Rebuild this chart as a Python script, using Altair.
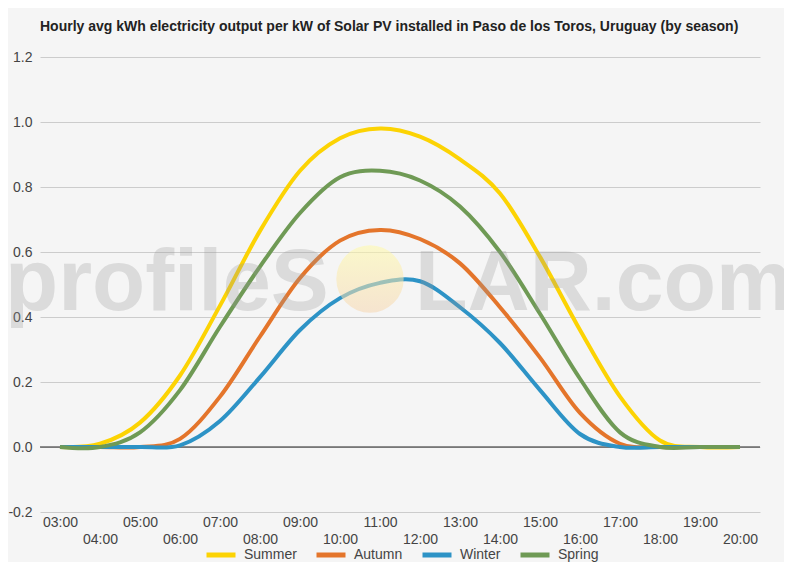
import altair as alt
import pandas as pd

hours = ["03:00", "04:00", "05:00", "06:00", "07:00", "08:00", "09:00", "10:00", "11:00",
         "12:00", "13:00", "14:00", "15:00", "16:00", "17:00", "18:00", "19:00", "20:00"]
summer = [0.0, 0.01, 0.075, 0.22, 0.435, 0.665, 0.85, 0.95, 0.98, 0.955, 0.885, 0.78, 0.585, 0.36, 0.155, 0.02, 0.0, 0.0]
autumn = [0.0, 0.0, 0.0, 0.025, 0.155, 0.34, 0.52, 0.635, 0.668, 0.64, 0.565, 0.43, 0.275, 0.105, 0.01, 0.0, 0.0, 0.0]
winter = [0.0, 0.0, 0.0, 0.005, 0.08, 0.215, 0.36, 0.458, 0.505, 0.51, 0.43, 0.32, 0.175, 0.04, 0.0, 0.0, 0.0, 0.0]
spring = [0.0, 0.0, 0.045, 0.175, 0.37, 0.555, 0.72, 0.83, 0.85, 0.82, 0.74, 0.6, 0.41, 0.21, 0.045, 0.0, 0.0, 0.0]
seasons = ["Summer", "Autumn", "Winter", "Spring"]
colors = ["#fcd303", "#e4752b", "#2d93c6", "#6f9a55"]

rows = []
for name, vals in zip(seasons, [summer, autumn, winter, spring]):
    for h, v in zip(hours, vals):
        rows.append({"hour": h, "value": v, "season": name})
df = pd.DataFrame(rows)

FONT = "Liberation Sans"

x = alt.X("hour:O", sort=hours, title=None,
          scale=alt.Scale(type="point", padding=0.5),
          axis=alt.Axis(labelAngle=0, ticks=False, domain=False, grid=False,
                        labelOverlap=False, labelPadding=3, labelFontSize=14,
                        labelColor="#444444", labelFont=FONT, labelLineHeight=17,
                        labelExpr="toNumber(slice(datum.label,0,2)) % 2 == 0 ? ['', datum.label] : datum.label"))

yticks = [round(-0.2 + 0.1 * i, 1) for i in range(15)]
y = alt.Y("value:Q", title=None,
          scale=alt.Scale(domain=[-0.2, 1.2], nice=False, zero=False),
          axis=alt.Axis(values=yticks, ticks=False, domain=False, labelPadding=8,
                        labelFontSize=14, labelColor="#444444", labelFont=FONT,
                        gridColor={"condition": {"test": "abs(round(datum.value*10)) % 2 == 1", "value": "#e6e6e6"},
                                   "value": "#cccccc"},
                        labelExpr="abs(round(datum.value*10)) % 2 == 1 ? '' : (datum.value < 0 ? '-' : '') + format(abs(datum.value), '.1f')"))

lines = alt.Chart(df).mark_line(strokeWidth=4, interpolate="cardinal").encode(
    x=x, y=y,
    color=alt.Color("season:N", sort=seasons,
                    scale=alt.Scale(domain=seasons, range=colors),
                    legend=alt.Legend(title=None, orient="none", direction="horizontal",
                                      legendX=164, legendY=481, symbolType="stroke",
                                      symbolSize=841, symbolStrokeWidth=5,
                                      labelFontSize=14, labelColor="#444444", labelFont=FONT,
                                      columnPadding=9, labelOffset=6, padding=0)),
)

zero = alt.Chart(pd.DataFrame({"value": [0.0]})).mark_rule(color="#222222", strokeWidth=1).encode(
    y=alt.Y("value:Q"))

sun = alt.Chart(pd.DataFrame({"a": [0]})).mark_circle(
    size=4540, opacity=0.55,
    color=alt.Gradient(gradient="linear", x1=0, y1=0, x2=0, y2=1,
                       stops=[alt.GradientStop(offset=0, color="#fffaa8"),
                              alt.GradientStop(offset=1, color="#f6d6b0")])
).encode(x=alt.value(330), y=alt.value(222))

wm1 = alt.Chart(pd.DataFrame({"t": ["profileS"]})).mark_text(
    font=FONT, fontSize=87, fontWeight="bold", align="left", baseline="alphabetic",
    color="#999999", opacity=0.28
).encode(text="t:N", x=alt.value(-35), y=alt.value(253))

wm2 = alt.Chart(pd.DataFrame({"t": ["LAR.com"]})).mark_text(
    font=FONT, fontSize=86, fontWeight="bold", align="left", baseline="alphabetic",
    color="#999999", opacity=0.28
).encode(text="t:N", x=alt.value(375), y=alt.value(253))

chart = alt.layer(zero, lines, sun, wm1, wm2).properties(
    width=720, height=455,
    padding={"left": 32, "top": 49, "right": 24, "bottom": 50},
    autosize="none",
    title=alt.TitleParams(
        "Hourly avg kWh electricity output per kW of Solar PV installed in Paso de los Toros, Uruguay (by season)",
        anchor="start", frame="group", font=FONT, fontSize=14, fontWeight="bold",
        color="#222222", offset=16),
).configure(background="#f5f5f5").configure_view(stroke=None)

chart.save("out.html", embed_options={"renderer": "svg", "actions": False})
